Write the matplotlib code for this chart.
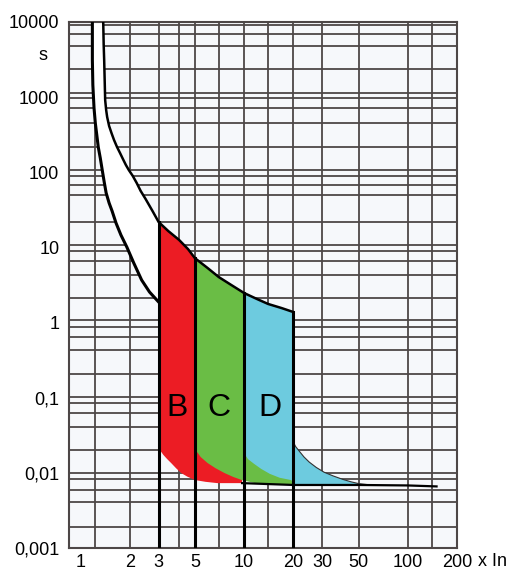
import matplotlib.pyplot as plt
from matplotlib.ticker import NullLocator

plt.rcParams['font.family'] = ['Liberation Sans', 'DejaVu Sans']

# grid of the chart paper
grid_x = [1.22, 2, 3, 4, 5, 7, 10, 14, 20, 30, 50, 100, 140]
grid_y = [9100, 7000, 4800, 2400, 1150, 980, 720, 450, 220, 107, 88, 68, 50, 22,
          10.8, 9.0, 6.6, 4.3, 2.1, 1.08, 0.87, 0.64, 0.43, 0.21,
          0.102, 0.085, 0.063, 0.041, 0.020, 0.0100, 0.0083, 0.0059, 0.0041, 0.0019]

x_ticks = [1, 2, 3, 5, 10, 20, 30, 50, 100, 200]
x_labels = ['1', '2', '3', '5', '10', '20', '30', '50', '100', '200']
y_ticks = [1e4, 1e3, 100, 10, 1, 0.1, 0.01, 0.001]
y_labels = ['10000', '1000', '100', '10', '1', '0,1', '0,01', '0,001']

# thermal band: lower and upper limit curves
low_x = [1.181, 1.181, 1.189, 1.209, 1.231, 1.257, 1.283, 1.320, 1.357, 1.395,
         1.434, 1.495, 1.559, 1.648, 1.766, 1.919, 2.115, 2.363, 2.64, 3.0]
low_y = [10000, 3121, 1452, 716, 453, 313, 217, 155, 107, 74.3,
         53, 39, 30.5, 21.1, 14.6, 10.1, 6.2, 3.68, 2.55, 1.88]
up_x = [1.376, 1.385, 1.395, 1.414, 1.434, 1.454, 1.495, 1.548, 1.602, 1.671,
        1.742, 1.816, 1.893, 1.973, 2.086, 2.205, 2.331, 2.498, 2.754,
        3.0, 3.44, 4.0, 4.54, 5.0, 5.98, 7.0, 8.35, 10, 11.97, 14, 16.94, 20]
up_y = [10000, 4943, 3027, 916, 674, 545, 413, 330, 269, 217,
        181, 150, 125, 107, 89.3, 71.9, 56.4, 44.1, 30.5,
        21.8, 16.5, 12.6, 9.5, 7.2, 5.32, 4.03, 3.16, 2.47, 2.06, 1.77, 1.56, 1.38]

# magnetic trip zones (lower edges)
b_low_x = [3.0, 3.06, 3.21, 3.38, 3.58, 3.84, 4.12, 4.5, 5.0, 5.8, 6.87, 9.72]
b_low_y = [0.0234, 0.020, 0.0173, 0.0153, 0.0135, 0.0115, 0.00995, 0.0089,
           0.00803, 0.0076, 0.0073, 0.0073]
c_low_x = [5.0, 5.15, 5.43, 5.98, 6.7, 7.58, 8.6, 9.72, 12, 20]
c_low_y = [0.0221, 0.0190, 0.0162, 0.0135, 0.0115, 0.00995, 0.0088, 0.008,
           0.0072, 0.0070]
d_low_x = [10, 10.25, 10.57, 11.49, 12.7, 14.35, 16.5, 19.46, 20, 56]
d_low_y = [0.0189, 0.0168, 0.0152, 0.0132, 0.0113, 0.0097, 0.0086, 0.008,
           0.0070, 0.0069]
d_tail_x = [20, 20.6, 21.7, 23.2, 25, 27.6, 30.8, 35, 40, 45, 50, 56]
d_tail_y = [0.0257, 0.0225, 0.0195, 0.0163, 0.0139, 0.0118, 0.0102, 0.0091,
            0.0082, 0.0076, 0.0072, 0.0070]

base_x = [9.72, 20, 50, 100, 150]
base_y = [0.0073, 0.0069, 0.0069, 0.0068, 0.0066]

zones = ['B', 'C', 'D']
zone_bounds = [3.0, 5.0, 10, 20]
zone_colors = ['#ec1c24', '#6abd45', '#6dcbdf']
label_x = [3.9, 7.0, 14.4]
label_y = 0.072

fig = plt.figure(figsize=(5.13, 5.70), dpi=100)
ax = fig.add_axes([69 / 513, 1 - 548 / 570, 388 / 513, 526 / 570])
ax.set_xscale('log')
ax.set_yscale('log')
ax.set_xlim(0.85, 200)
ax.set_ylim(0.001, 10000)
ax.set_facecolor('#f6f8fb')

gcol = '#4d4747'
for v in grid_x:
    ax.axvline(v, color=gcol, lw=1.3, zorder=1)
for v in grid_y:
    ax.axhline(v, color=gcol, lw=1.3, zorder=1)

# white band between the two thermal curves
i3 = up_x.index(3.0)
band_x = low_x + up_x[:i3 + 1][::-1]
band_y = low_y + up_y[:i3 + 1][::-1]
ax.fill(band_x, band_y, color='white', zorder=2, lw=0)


def seg(x0, x1):
    i0, i1 = up_x.index(x0), up_x.index(x1)
    return up_x[i0:i1 + 1], up_y[i0:i1 + 1]


ux, uy = seg(3.0, 10)
ax.fill(ux + b_low_x[::-1], uy + b_low_y[::-1], color=zone_colors[0], lw=0, zorder=2)
ux, uy = seg(5.0, 20)
ax.fill(ux + c_low_x[::-1], uy + c_low_y[::-1], color=zone_colors[1], lw=0, zorder=2.1)
ux, uy = seg(10, 20)
ax.fill(ux + d_tail_x + d_low_x[::-1], uy + d_tail_y + d_low_y[::-1],
        color=zone_colors[2], lw=0, zorder=2.2)

# curves
ax.plot(low_x, low_y, color='black', lw=2.2, zorder=3)
ax.plot(up_x, up_y, color='black', lw=1.8, zorder=3)
ax.plot(d_tail_x, d_tail_y, color='#333333', lw=0.8, zorder=3)
ax.plot(base_x, base_y, color='black', lw=1.6, zorder=3)
for b in zone_bounds:
    ax.plot([b, b], [up_y[up_x.index(b)], 0.001], color='black', lw=2.2, zorder=3)

for name, lx in zip(zones, label_x):
    ax.text(lx, label_y, name, fontsize=23, ha='center', va='center', zorder=4)

ax.set_xticks(x_ticks)
ax.set_xticklabels(x_labels)
ax.set_yticks(y_ticks)
ax.set_yticklabels(y_labels)
ax.xaxis.set_minor_locator(NullLocator())
ax.yaxis.set_minor_locator(NullLocator())
ax.tick_params(length=0, labelsize=13, colors='black')
ax.tick_params(axis='x', pad=4)
ax.tick_params(axis='y', pad=7)
for s in ax.spines.values():
    s.set_color(gcol)
    s.set_linewidth(1.5)

fig.text(43 / 513, 1 - 55 / 570, 's', fontsize=13, ha='center', va='center')
fig.text(493 / 513, 1 - 561 / 570, 'x In', fontsize=13, ha='center', va='center')

fig.savefig('out.png', dpi=100)
